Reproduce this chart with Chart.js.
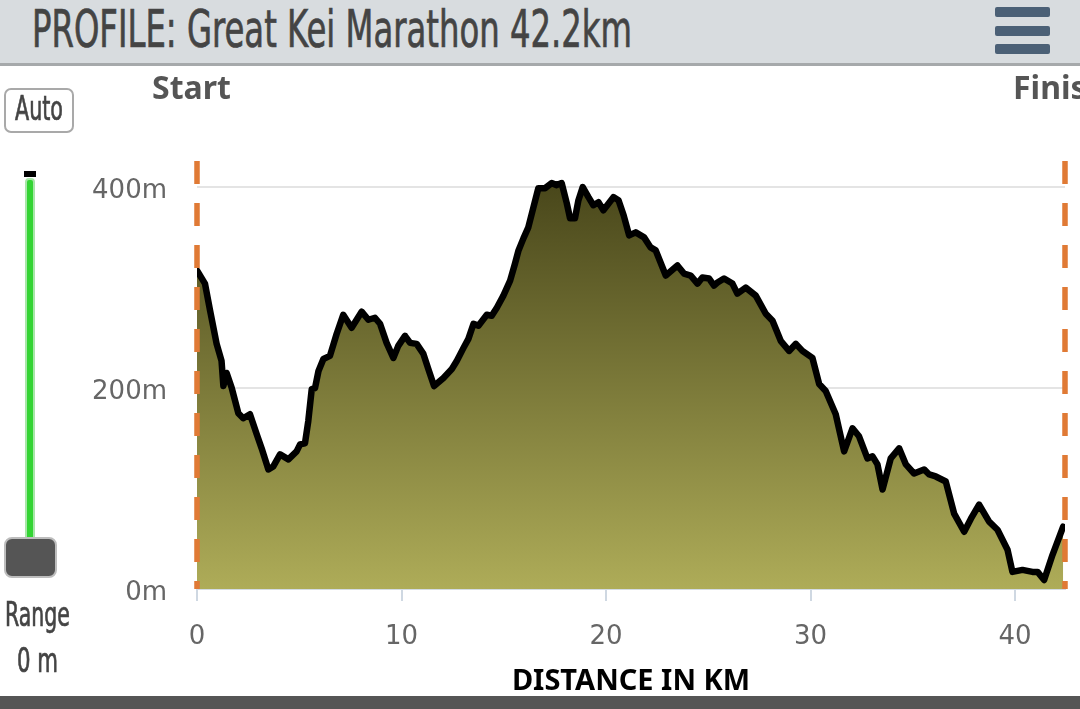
<!DOCTYPE html>
<html>
<head>
<meta charset="utf-8">
<script src="https://cdn.jsdelivr.net/npm/chart.js@4.4.0/dist/chart.umd.min.js"></script>
<style>
html, body { margin:0; padding:0; width:1080px; height:709px; overflow:hidden; background:#fff; }
#hdr { position:absolute; left:0; top:0; width:1080px; height:63px; background:#d8dcdf; border-bottom:3px solid #a6a9ab; }
.narrow { position:absolute; white-space:nowrap; transform-origin:0 0; line-height:1;
  font-family:"Liberation Sans Narrow","DejaVu Sans Condensed",sans-serif; color:#444;
  -webkit-text-stroke:0.7px #444; }
.bar { position:absolute; left:995px; width:55px; height:10px; background:#4b6076; border-radius:2px; }
#autoBox { position:absolute; left:4px; top:88px; width:66px; height:41px; border:2px solid #a9a9a9; border-radius:7px; }
#cap { position:absolute; left:24px; top:171px; width:12px; height:6px; background:#000; }
#track { position:absolute; left:25px; top:178px; width:6px; height:362px; background:#33d433; border:2px solid #a8e6a8; border-radius:4px; }
#knob { position:absolute; left:4px; top:537px; width:49px; height:37px; background:#555; border:2px solid #bdbdbd; border-radius:8px; }
.se { position:absolute; top:71px; font-family:"Noto Sans",sans-serif; font-weight:700; font-size:32px; line-height:1; color:#555; white-space:nowrap; }
#foot { position:absolute; left:0; top:696px; width:1080px; height:13px; background:#555; }
canvas { position:absolute; left:0; top:66px; }
</style>
</head>
<body>
<canvas id="profile" width="1080" height="630"></canvas>
<div id="hdr"></div>
<div class="narrow" id="title" style="left:32px;top:4px;font-size:51px;">PROFILE: Great Kei Marathon 42.2km</div>
<div class="bar" style="top:7px"></div>
<div class="bar" style="top:26px"></div>
<div class="bar" style="top:44px"></div>
<div id="autoBox"></div>
<div class="narrow" id="auto" style="left:15px;top:91px;font-size:34px;">Auto</div>
<div id="track"></div>
<div id="cap"></div>
<div id="knob"></div>
<div class="narrow" id="range" style="left:5px;top:598px;font-size:33px;">Range</div>
<div class="narrow" id="zero" style="left:17px;top:644px;font-size:33px;">0 m</div>
<div class="se" style="left:152px">Start</div>
<div class="se" style="left:1013px">Finish</div>
<div id="foot"></div>
<script>
// Data
var distanceKm = [0,0.39,0.64,0.96,1.2,1.29,1.45,1.7,2.02,2.26,
  2.59,2.92,3.16,3.49,3.73,4.06,4.47,4.87,5.04,5.28,
  5.44,5.61,5.77,5.94,6.18,6.5,6.83,7.15,7.56,8.05,
  8.38,8.7,8.95,9.27,9.6,9.84,10.17,10.42,10.74,11.07,
  11.31,11.59,12.05,12.46,12.7,13.03,13.27,13.52,13.76,14.17,
  14.41,14.66,14.98,15.31,15.55,15.72,15.96,16.2,16.45,16.69,
  17.02,17.34,17.59,17.83,18.08,18.24,18.48,18.65,18.86,19.14,
  19.38,19.63,19.87,20.36,20.61,20.86,21.13,21.45,21.86,22.18,
  22.43,22.92,23.49,23.81,24.14,24.47,24.71,25.04,25.28,25.45,
  25.77,26.18,26.42,26.83,27.32,27.81,28.14,28.54,28.95,29.28,
  29.6,30.09,30.42,30.74,31.23,31.64,32.05,32.37,32.78,33.03,
  33.27,33.52,33.92,34.33,34.66,35.06,35.55,35.8,36.12,36.61,
  37.02,37.51,37.84,38.24,38.73,39.14,39.63,39.87,40.36,40.85,
  41.1,41.42,41.83,42.35]
var elevationM = [317,304,277,244,227,202,215,200,175,170,
  174,154,140,119,122,134,129,137,144,145,
  167,199,200,217,229,232,254,273,260,276,
  268,270,264,245,230,242,252,245,244,234,
  219,202,210,219,227,240,249,264,262,273,
  272,280,292,307,324,337,349,360,380,399,
  399,404,402,404,384,369,369,387,400,390,
  382,385,377,390,387,372,352,355,350,340,
  337,312,322,314,312,304,310,309,302,305,
  309,304,294,300,292,274,267,247,237,244,
  237,230,204,197,174,137,160,152,130,132,
  124,99,130,140,124,115,119,114,112,107,
  75,57,70,84,67,59,39,17,19,17,
  17,9,34,62]
var xTicks = [0, 10, 20, 30, 40]
var yTicks = [0, 200, 400]
var courseEnd = 42.44

// squeeze narrow labels to their widths in the picture
function fit(id, w) {
    var e = document.getElementById(id)
    e.style.transform = 'scaleX(' + (w / e.getBoundingClientRect().width) + ')'
}
fit('title', 600); fit('auto', 48); fit('range', 65); fit('zero', 41)

var points = []
for (let i = 0; i < distanceKm.length; i++) {
    points.push({x: distanceKm[i], y: elevationM[i]})
}

// orange start / finish markers
var markers = {
    id: 'markers',
    afterDatasetsDraw(chart) {
        var ctx = chart.ctx, a = chart.chartArea, xs = chart.scales.x
        ctx.save()
        ctx.strokeStyle = '#e07a35'
        ctx.lineWidth = 5.5
        ctx.setLineDash([23, 19])
        ;[0, courseEnd].forEach(function (v) {
            var px = xs.getPixelForValue(v)
            ctx.beginPath()
            ctx.moveTo(px, a.top + 1)
            ctx.lineTo(px, a.bottom)
            ctx.stroke()
        })
        ctx.restore()
    }
}

var ctx = document.getElementById('profile').getContext('2d')
var profileChart = new Chart(ctx, {
    type: 'line',
    data: {
        datasets: [{
            data: points,
            borderColor: '#000',
            borderWidth: 6.5,
            borderJoinStyle: 'round',
            borderCapStyle: 'round',
            pointRadius: 0,
            tension: 0,
            fill: 'origin',
            backgroundColor: function (c) {
                var a = c.chart.chartArea
                if (!a) return '#7f7d3b'
                var g = c.chart.ctx.createLinearGradient(0, a.top + 20, 0, a.bottom)
                g.addColorStop(0, '#48461a')
                g.addColorStop(1, '#aeac58')
                return g
            }
        }]
    },
    options: {
        responsive: false,
        devicePixelRatio: 1,
        animation: false,
        layout: {padding: {top: 94, right: 15, left: 0, bottom: 0}},
        plugins: {legend: {display: false}, tooltip: {enabled: false}},
        scales: {
            x: {
                type: 'linear',
                min: 0,
                max: courseEnd,
                afterBuildTicks: function (s) { s.ticks = xTicks.map(v => ({value: v})) },
                afterFit: function (s) { s.height = 107 },
                grid: {drawOnChartArea: false, color: '#cfd8e2', lineWidth: 2, tickLength: 12},
                border: {color: '#d3dbe3', width: 2},
                ticks: {color: '#666', padding: 21, maxRotation: 0, font: {family: 'DejaVu Sans', size: 26}},
                title: {
                    display: true,
                    text: 'DISTANCE IN KM',
                    color: '#000',
                    padding: 0,
                    font: {family: 'Noto Sans', weight: 'bold', size: 29, lineHeight: 1}
                }
            },
            y: {
                min: 0,
                max: 427,
                afterBuildTicks: function (s) { s.ticks = yTicks.map(v => ({value: v})) },
                afterFit: function (s) { s.width = 197 },
                grid: {color: '#e4e4e4', lineWidth: 2, drawTicks: false},
                border: {display: false},
                ticks: {
                    color: '#666',
                    padding: 30,
                    labelOffset: 4,
                    font: {family: 'DejaVu Sans', size: 26},
                    callback: function (v) { return v + 'm' }
                }
            }
        }
    },
    plugins: [markers]
})
</script>
</body>
</html>
